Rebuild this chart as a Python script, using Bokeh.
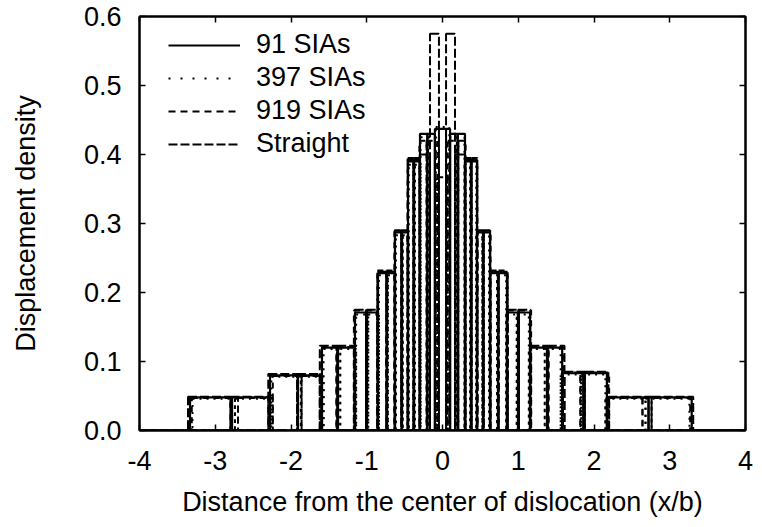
import numpy as np
from bokeh.plotting import figure
from bokeh.models import (Range1d, FixedTicker, PrintfTickFormatter, LinearAxis,
                          Legend, LegendItem, ColumnDataSource, CustomJSTickFormatter)
from bokeh.embed import file_html
from bokeh.resources import INLINE

# ---- data (bin edges in x/b, displacement density per bin) ----
edges_91 = [-4.0, -3.333, -2.779, -2.277, -1.908, -1.591, -1.38, -1.155, -0.997, -0.851,
            -0.733, -0.627, -0.535, -0.455, -0.376, -0.297, -0.20, -0.10, 0.10, 0.20,
            0.297, 0.376, 0.455, 0.535, 0.627, 0.733, 0.851, 0.997, 1.155, 1.38, 1.58,
            1.86, 2.17, 2.72, 3.29, 4.0]
dens_91 = [0.0, 0.048, 0.048, 0.080, 0.080, 0.120, 0.120, 0.171, 0.171, 0.228, 0.228,
           0.287, 0.287, 0.390, 0.390, 0.430, 0.430, 0.437, 0.430, 0.430, 0.390, 0.390,
           0.287, 0.287, 0.228, 0.228, 0.171, 0.171, 0.120, 0.120, 0.083, 0.083,
           0.048, 0.048, 0.0]

edges_397 = [-4.0, -3.30, -2.74, -2.26, -1.87, -1.57, -1.35, -1.14, -0.98, -0.84,
             -0.72, -0.615, -0.525, -0.445, -0.365, -0.29, -0.19, -0.09, 0.09, 0.19,
             0.29, 0.365, 0.445, 0.525, 0.615, 0.72, 0.84, 0.98, 1.14, 1.35, 1.56,
             1.83, 2.15, 2.68, 3.26, 4.0]
dens_397 = [0.0, 0.046, 0.046, 0.078, 0.078, 0.118, 0.118, 0.168, 0.168, 0.225, 0.225,
            0.283, 0.283, 0.385, 0.385, 0.425, 0.425, 0.440, 0.425, 0.425, 0.385, 0.385,
            0.283, 0.283, 0.225, 0.225, 0.168, 0.168, 0.118, 0.118, 0.081, 0.081,
            0.046, 0.046, 0.0]

edges_919 = [-4.0, -3.31, -2.70, -2.24, -1.86, -1.60, -1.40, -1.17, -1.01, -0.86,
             -0.74, -0.635, -0.545, -0.46, -0.385, -0.305, -0.21, -0.07, 0.07, 0.21,
             0.305, 0.385, 0.46, 0.545, 0.635, 0.74, 0.86, 1.01, 1.17, 1.40, 1.59,
             1.82, 2.20, 2.64, 3.27, 4.0]
dens_919 = [0.0, 0.047, 0.047, 0.079, 0.079, 0.121, 0.121, 0.174, 0.174, 0.232, 0.232,
            0.290, 0.290, 0.395, 0.395, 0.420, 0.420, 0.367, 0.420, 0.420, 0.395, 0.395,
            0.290, 0.290, 0.232, 0.232, 0.174, 0.174, 0.121, 0.121, 0.084, 0.084,
            0.047, 0.047, 0.0]

edges_str = [-4.0, -3.36, -2.80, -2.30, -1.92, -1.62, -1.39, -1.16, -1.00, -0.86,
             -0.74, -0.63, -0.54, -0.46, -0.38, -0.30, -0.165, -0.047, 0.047, 0.165,
             0.30, 0.38, 0.46, 0.54, 0.63, 0.74, 0.86, 1.00, 1.16, 1.39, 1.61,
             1.88, 2.19, 2.76, 3.31, 4.0]
dens_str = [0.0, 0.049, 0.049, 0.082, 0.082, 0.123, 0.123, 0.175, 0.175, 0.230, 0.230,
            0.290, 0.290, 0.392, 0.392, 0.400, 0.575, 0.437, 0.575, 0.400, 0.392, 0.392,
            0.290, 0.290, 0.230, 0.230, 0.175, 0.175, 0.123, 0.123, 0.085, 0.085,
            0.049, 0.049, 0.0]

labels = ["91 SIAs", "397 SIAs", "919 SIAs", "Straight"]
x_ticks = [-4, -3, -2, -1, 0, 1, 2, 3, 4]
y_ticks = [0.0, 0.1, 0.2, 0.3, 0.4, 0.5, 0.6]

series = [
    (edges_str, dens_str, "9 3", 2.0),
    (edges_919, dens_919, "6 5", 2.0),
    (edges_397, dens_397, "2 5", 2.0),
    (edges_91, dens_91, "solid", 2.2),
]
legend_styles = {"91 SIAs": ("solid", 2.0), "397 SIAs": ("2 10", 2.0),
                 "919 SIAs": ("7 5", 2.0), "Straight": ("9 3", 2.0)}

FONT = "Liberation Sans"
FS = "27px"

p = figure(width=762, height=527, output_backend="svg", toolbar_location=None,
           x_range=Range1d(-4, 4), y_range=Range1d(0, 0.6),
           min_border_left=139, min_border_right=17, min_border_top=16,
           min_border_bottom=97)
p.grid.visible = False
p.outline_line_color = "black"
p.outline_line_width = 2
p.background_fill_color = "white"
p.border_fill_color = "white"

for edges, dens, dash, lw in series:
    src = ColumnDataSource(dict(left=edges[:-1], right=edges[1:], top=dens,
                                bottom=[0.0] * len(dens)))
    p.quad(left="left", right="right", top="top", bottom="bottom", source=src,
           fill_color=None, line_color="black", line_width=lw, line_dash=dash)

items = []
for lab in labels:
    dash, lw = legend_styles[lab]
    r = p.line(x=[np.nan], y=[np.nan], line_color="black", line_width=lw, line_dash=dash)
    items.append(LegendItem(label=lab, renderers=[r]))

legend = Legend(items=items, location=(29, 271), glyph_width=72, glyph_height=30,
                label_height=30, spacing=2, padding=0, margin=0, label_standoff=16,
                label_text_font=FONT, label_text_font_size=FS, label_text_color="black",
                border_line_color=None, background_fill_alpha=0)
p.add_layout(legend)

def style_axis(ax, show_labels):
    ax.axis_line_color = "black"
    ax.axis_line_width = 2
    ax.major_tick_in = 6
    ax.major_tick_out = 0
    ax.major_tick_line_width = 1.5
    ax.major_tick_line_color = "black"
    ax.minor_tick_line_color = None
    if show_labels:
        ax.major_label_text_font = FONT
        ax.major_label_text_font_size = FS
        ax.major_label_text_color = "black"
        ax.axis_label_text_font = FONT
        ax.axis_label_text_font_size = FS
        ax.axis_label_text_font_style = "normal"
        ax.axis_label_text_color = "black"
    else:
        ax.formatter = CustomJSTickFormatter(code="return '';")
        ax.major_label_standoff = 0

xa = p.xaxis[0]
xa.ticker = FixedTicker(ticks=x_ticks)
xa.formatter = PrintfTickFormatter(format="%d")
xa.axis_label = "Distance from the center of dislocation (x/b)"
style_axis(xa, True)
xa.major_label_standoff = 20
xa.axis_label_standoff = 14

ya = p.yaxis[0]
ya.ticker = FixedTicker(ticks=y_ticks)
ya.formatter = PrintfTickFormatter(format="%.1f")
ya.axis_label = "Displacement density"
style_axis(ya, True)
ya.major_label_standoff = 18
ya.axis_label_standoff = 40

top_ax = LinearAxis(ticker=FixedTicker(ticks=x_ticks))
style_axis(top_ax, False)
p.add_layout(top_ax, "above")
right_ax = LinearAxis(ticker=FixedTicker(ticks=y_ticks))
style_axis(right_ax, False)
p.add_layout(right_ax, "right")

open("out.html", "w").write(file_html(p, INLINE))
